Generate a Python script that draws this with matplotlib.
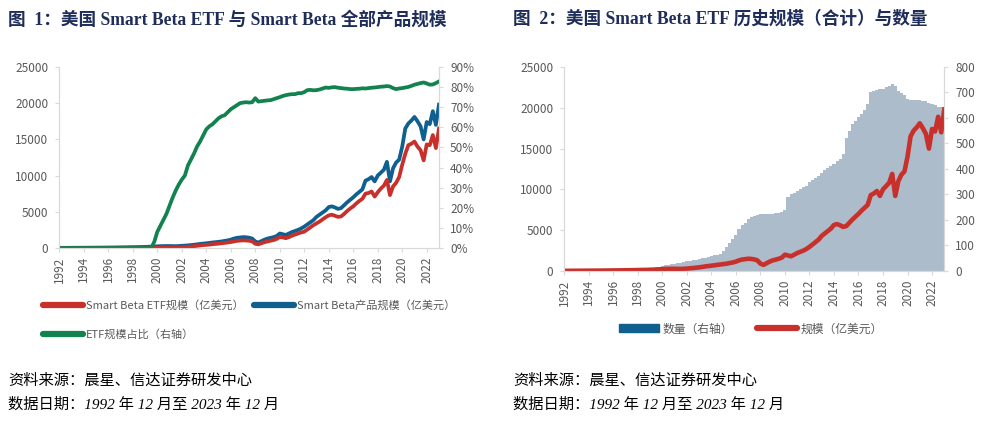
import numpy as np
import matplotlib
matplotlib.use("Agg")
import matplotlib.pyplot as plt
from matplotlib.lines import Line2D
from matplotlib.patches import Patch

plt.rcParams['font.family'] = ['Noto Sans CJK SC', 'DejaVu Sans']

# quarterly points, Dec 1992 .. Dec 2023 (t = years since Dec 1992)
first_year = 1992
tick_years = list(range(1992, 2023, 2))

# ETF share of all Smart Beta products, % (right axis, chart 1)
etf_share = [
    0,
    0, 0, 0, 0,  0, 0, 0, 0,  0, 0, 0, 0,  0, 0, 0, 0,
    0, 0, 0, 0,  0, 0, 0, 0,  0, 0, 0, 0,  0, 0, 3,
    8, 11, 14, 17,  21, 25, 28.5, 31.5,  34, 36, 41, 44,
    47, 50.5, 53, 56,  59, 60.5, 61.5, 63,  64.5, 65.5, 66, 67.5,
    69, 70, 71, 72,  72.3, 72.5, 72.3, 72.5,  74.5, 72.8, 73, 73.2,
    73.4, 73.5, 74, 74.5,  75, 75.6, 76, 76.3,  76.5, 76.5, 77, 77,
    77.5, 78.5, 78.6, 78.4,  78.5, 78.8, 79.3, 79.8,  79.6, 79.9, 80, 79.7,
    79.5, 79.3, 79.2, 79,  79, 79.1, 79.2, 79.4,  79.3, 79.5, 79.7, 79.8,
    80, 80.2, 80.3, 80.5,  80.3, 79.5, 79, 79.3,  79.5, 79.8, 80.1, 80.6,
    81.2, 81.6, 82, 82.3,  81.8, 81.2, 81.3, 82,
    82.8,
]

# Smart Beta ETF AUM, 100m USD
etf_aum = [
    0,
    0, 0, 0, 0,  0, 0, 0, 0,  0, 0, 0, 0,  0, 0, 0, 0,
    0, 0, 0, 0,  0, 0, 0, 0,  0, 0, 0, 0,  0, 5, 10,
    20, 30, 40, 50,  60, 65, 70, 80,  100, 130, 160, 200,
    250, 300, 350, 400,  430, 470, 520, 560,  600, 650, 700, 760,
    820, 900, 980, 1020,  1050, 1030, 1000, 900,  580, 500, 650, 800,
    900, 1000, 1100, 1250,  1500, 1450, 1350, 1500,  1700, 1850, 2000, 2150,
    2250, 2550, 2850, 3150,  3400, 3650, 3950, 4250,  4500, 4600, 4450, 4300,
    4350, 4700, 5100, 5450,  5750, 6150, 6500, 6800,  7500, 7600, 7800, 7100,
    7700, 8200, 8600, 9400,  7300, 8500, 9000, 9800,  11500, 13000, 14200, 14400,
    14700, 14000, 13500, 12100,  14300, 14200, 15600, 13800,
    16500,
]

# all Smart Beta products AUM, 100m USD (also chart 2 line)
sb_aum = [
    20,
    20, 22, 25, 28,  30, 32, 35, 38,  40, 42, 45, 48,  52, 56, 60, 65,
    70, 75, 80, 90,  95, 100, 110, 115,  120, 130, 140, 150,  165, 180, 200, 230,
    250, 260, 270, 270,  260, 250, 270, 300,  330, 360, 400, 450,
    500, 560, 610, 650,  700, 760, 800, 850,  900, 980, 1050, 1150,
    1300, 1400, 1450, 1500,  1480, 1420, 1300, 900,  750, 950, 1150, 1300,
    1400, 1500, 1650, 2000,  1900, 1800, 2000, 2200,  2350, 2500, 2700, 2950,
    3250, 3550, 3850, 4300,  4600, 4900, 5200, 5650,  5750, 5600, 5400, 5500,
    5900, 6300, 6650, 7000,  7400, 7750, 8100, 9300,  9500, 9800, 9200, 10000,
    10400, 10800, 11900, 9200,  11000, 11800, 12200, 14000,  16500, 17200, 17600, 18100,
    17500, 16800, 15000, 17400,  17100, 18900, 17000, 19800,
]

# number of Smart Beta ETFs (right axis, chart 2)
etf_count = [
    0,
    0, 0, 0, 0,  0, 0, 0, 1,  1, 1, 1, 1,  1, 2, 2, 2,
    3, 3, 3, 4,  4, 5, 5, 6,  7, 8, 9, 10,  12, 14, 17, 20,
    22, 24, 26, 28,  30, 32, 34, 38,  40, 42, 44, 48,
    50, 52, 55, 60,  62, 64, 66, 80,  95, 110, 125, 140,
    165, 180, 190, 205,  212, 215, 218, 222,  223, 224, 224, 225,
    226, 228, 230, 240,  290, 300, 305, 315,  322, 328, 335, 350,
    358, 365, 372, 385,  395, 402, 410, 420,  430, 440, 460, 520,
    550, 575, 590, 605,  615, 630, 655, 700,  705, 708, 712, 715,
    720, 725, 732, 725,  705, 697, 690, 675,  672, 672, 672, 670,
    668, 665, 660, 655,  650, 645, 642, 640,
]

RED = '#C8302C'
BLUE = '#0F5F8F'
GREEN = '#12824E'
BAR = '#ADBCCB'
GREY = '#595959'
SPINE = '#D9D9D9'
NAVY = '#1F2D5A'

t = np.arange(len(sb_aum)) / 4.0
tick_pos = [y - first_year for y in tick_years]


def style_axes(ax, ax2):
    for a in (ax, ax2):
        a.spines['top'].set_visible(False)
        for s in ('left', 'right', 'bottom'):
            a.spines[s].set_color(SPINE)
        a.tick_params(colors=SPINE, labelcolor=GREY, labelsize=8.5, length=3)
    ax.set_xlim(0, 31)
    ax.set_xticks(tick_pos)
    ax.set_xticklabels([str(y) for y in tick_years], rotation=90)
    ax.tick_params(axis='x', pad=3)
    ax.tick_params(axis='y', pad=5)
    ax2.tick_params(axis='y', pad=5)


fig = plt.figure(figsize=(9.92, 4.30), dpi=100)

title_font = dict(family=['Liberation Serif', 'Noto Sans CJK SC'], weight='bold',
                  size=12.7, color=NAVY)
foot_font = dict(family=['Liberation Serif', 'Noto Sans CJK SC'], style='italic',
                 size=11, color='black')

# ---- chart 1 ----
ax1 = fig.add_axes([0.0598, 0.4233, 0.3827, 0.4209])
ax1r = ax1.twinx()
ax1.plot(t, etf_aum, color=RED, lw=2.7, zorder=3)
ax1.plot(t, sb_aum, color=BLUE, lw=2.7, zorder=2)
ax1r.plot(t, etf_share, color=GREEN, lw=2.7)
ax1.set_ylim(0, 25000)
ax1.set_yticks(range(0, 25001, 5000))
ax1r.set_ylim(0, 90)
ax1r.set_yticks(range(0, 91, 10))
ax1r.set_yticklabels([f'{v}%' for v in range(0, 91, 10)])
style_axes(ax1, ax1r)

h1 = [Line2D([], [], color=RED, lw=4.5, solid_capstyle='round'),
      Line2D([], [], color=GREEN, lw=4.5, solid_capstyle='round'),
      Line2D([], [], color=BLUE, lw=4.5, solid_capstyle='round')]
l1 = ['Smart Beta ETF规模（亿美元）', 'ETF规模占比（右轴）', 'Smart Beta产品规模（亿美元）']
fig.legend(h1, l1, ncol=2, loc='upper left', bbox_to_anchor=(0.033, 0.325),
           frameon=False, fontsize=8, labelcolor=GREY, handlelength=3.6,
           handletextpad=0.3, columnspacing=0.9, labelspacing=1.6)

fig.text(0.008, 0.955, '图  1：美国 Smart Beta ETF 与 Smart Beta 全部产品规模',
         va='center', **title_font)

# ---- chart 2 ----
ax2 = fig.add_axes([0.5689, 0.3698, 0.3830, 0.4744])
ax2r = ax2.twinx()
ax2r.bar(t, etf_count, width=0.25, color=BAR, edgecolor='none', align='center')
ax2.plot(t, sb_aum, color=RED, lw=3.3)
ax2.set_zorder(ax2r.get_zorder() + 1)
ax2.patch.set_visible(False)
ax2.set_ylim(0, 25000)
ax2.set_yticks(range(0, 25001, 5000))
ax2r.set_ylim(0, 800)
ax2r.set_yticks(range(0, 801, 100))
style_axes(ax2, ax2r)

h2 = [Patch(color=BLUE), Line2D([], [], color=RED, lw=4.5, solid_capstyle='round')]
l2 = ['数量（右轴）', '规模（亿美元）']
fig.legend(h2, l2, ncol=2, loc='center', bbox_to_anchor=(0.757, 0.235),
           frameon=False, fontsize=8.5, labelcolor=GREY, handlelength=3.4,
           handletextpad=0.3, columnspacing=2.0)

fig.text(0.517, 0.955, '图  2：美国 Smart Beta ETF 历史规模（合计）与数量',
         va='center', **title_font)

# ---- footers ----
for x0 in (0.008, 0.517):
    fig.text(x0, 0.114, '资料来源：晨星、信达证券研发中心', va='center', **foot_font)
    fig.text(x0, 0.058, '数据日期：1992 年 12 月至 2023 年 12 月', va='center', **foot_font)

fig.savefig('out.png', dpi=100)
